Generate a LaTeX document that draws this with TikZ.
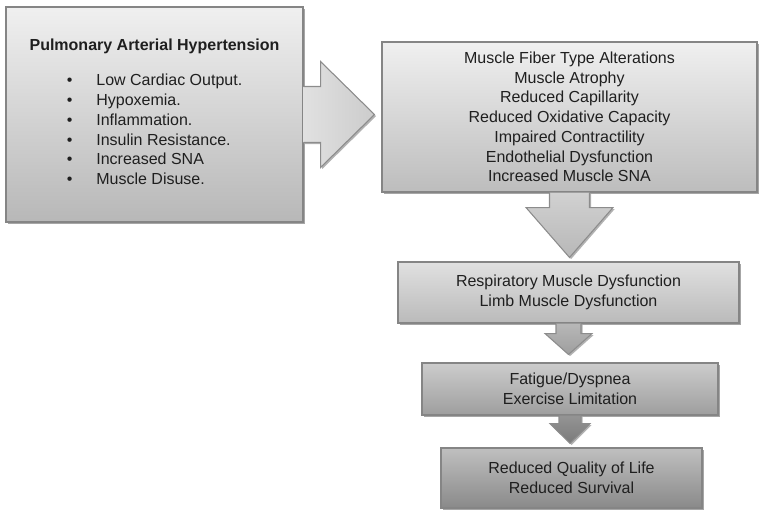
\documentclass[tikz,border=0pt]{standalone}
\usepackage{fontspec}
\setmainfont{Liberation Sans}
\usetikzlibrary{calc,shadows}

\tikzset{
  box/.style={rectangle, draw=black!48, line width=0.8pt, text=black!88, align=center,
    inner sep=0pt, font=\fontsize{12}{14.8}\selectfont,
    drop shadow={shadow xshift=1.4pt, shadow yshift=-1.4pt, opacity=0.35, fill=black}},
  blockarrow/.style={draw=black!45, line width=0.8pt, line join=miter,
    drop shadow={shadow xshift=1.2pt, shadow yshift=-1.2pt, opacity=0.3, fill=black}}
}

\begin{document}
\begin{tikzpicture}[x=0.75pt,y=-0.75pt]
\useasboundingbox (0,0) rectangle (760,514);

% PAH node
\node[box, minimum width=222.75pt, minimum height=161.25pt, top color=black!6, bottom color=black!28] (pah) at (154.5,114.5) {\textbf{Pulmonary Arterial Hypertension}\\[13pt]
  \begin{tabular}{@{}l@{\hspace{18pt}}l@{}}
  \textbullet & Low Cardiac Output.\\
  \textbullet & Hypoxemia.\\
  \textbullet & Inflammation.\\
  \textbullet & Insulin Resistance.\\
  \textbullet & Increased SNA\\
  \textbullet & Muscle Disuse.
  \end{tabular}};

% muscle effects node
\node[box, minimum width=281.25pt, minimum height=112.5pt, top color=black!6, bottom color=black!26] (effects) at (569.5,117) {Muscle Fiber Type Alterations\\Muscle Atrophy\\Reduced Capillarity\\Reduced Oxidative Capacity\\Impaired Contractility\\Endothelial Dysfunction\\Increased Muscle SNA};

% dysfunction node
\node[box, minimum width=255.75pt, minimum height=45.75pt, top color=black!12, bottom color=black!27] (dysf) at (568.5,292.5) {Respiratory Muscle Dysfunction\\Limb Muscle Dysfunction};

% fatigue node
\node[box, minimum width=222pt, minimum height=39pt, top color=black!20, bottom color=black!38] (fatigue) at (570,389) {Fatigue/Dyspnea\\Exercise Limitation};

% outcome node
\node[box, minimum width=195.75pt, minimum height=45pt, top color=black!25, bottom color=black!46] (outcome) at (571.5,478) {Reduced Quality of Life\\Reduced Survival};

% PAH -> effects
\draw[blockarrow, left color=black!12, right color=black!20] ($(pah.east)+(0,-28)$) -- ++(17,0) -- ++(0,-25)
  -- ($(effects.west |- pah.east)+(-7,0)$) -- ($(pah.east)+(17,53)$) -- ++(0,-25) -- ($(pah.east)+(0,28)$);

% effects -> dysf
\draw[blockarrow, top color=black!18, bottom color=black!28] ($(effects.south)+(-20,0)$) -- ++(0,15) -- ++(-23.5,0)
  -- ($(effects.south |- dysf.north)+(0,-4)$) -- ($(effects.south)+(43.5,15)$) -- ++(-23.5,0) -- ($(effects.south)+(20,0)$);

% dysf -> fatigue
\draw[blockarrow, top color=black!28, bottom color=black!38] ($(dysf.south)+(-12.5,0)$) -- ++(0,10) -- ++(-11,0)
  -- ($(dysf.south |- fatigue.north)+(0,-8)$) -- ($(dysf.south)+(23.5,10)$) -- ++(-11,0) -- ($(dysf.south)+(12.5,0)$);

% fatigue -> outcome
\draw[blockarrow, top color=black!42, bottom color=black!52] ($(fatigue.south)+(-11,0)$) -- ++(0,8) -- ++(-9,0)
  -- ($(fatigue.south |- outcome.north)+(0,-4)$) -- ($(fatigue.south)+(20,8)$) -- ++(-9,0) -- ($(fatigue.south)+(11,0)$);

\end{tikzpicture}
\end{document}
